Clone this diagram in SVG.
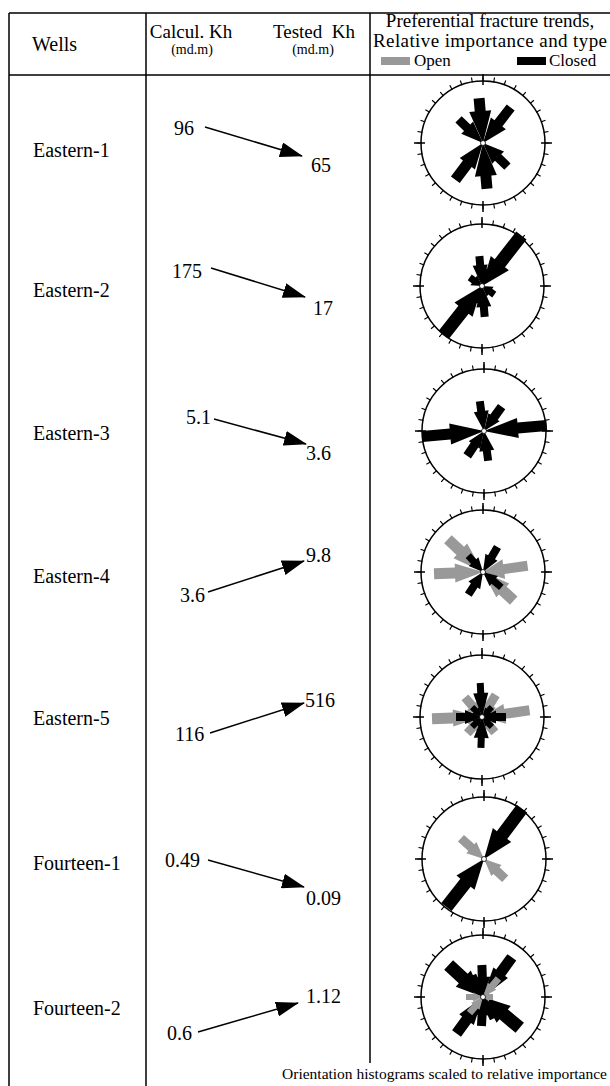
<svg xmlns="http://www.w3.org/2000/svg" width="610" height="1086" viewBox="0 0 610 1086">
<style>
text{font-family:"Liberation Serif",serif;fill:#000}
.hd{font-size:19px}
.sm{font-size:14px}
.lg{font-size:17px}
.lb{font-size:20px}
.nm{font-size:20px}
.cap{font-size:15.5px}
.rule{stroke:#000;stroke-width:1.5;fill:none}
.conn{stroke:#000;stroke-width:1.5;fill:none;marker-end:url(#ah)}
.k{fill:#000}
.g{fill:#999}
.hub{fill:#fff;stroke:#000;stroke-width:0.8}
</style>
<defs>
<marker id="ah" markerUnits="userSpaceOnUse" markerWidth="23" markerHeight="15" refX="22" refY="7.5" orient="auto"><path d="M0,0L23,7.5L0,15Z" fill="#000"/></marker>
<g id="ring">
<circle r="62" fill="none" stroke="#000" stroke-width="1.5"/>
<circle r="64" fill="none" stroke="#000" stroke-width="5" pathLength="360" stroke-dasharray="1 9" stroke-dashoffset="0.5"/>
<path d="M0,-69V-58M0,58V69M-69,0H-58M58,0H69" stroke="#000" stroke-width="1.5"/>
</g>
</defs>

<g id="table">
<path class="rule" d="M9,13H610M9,75H610M9,13V1086M146,13V1086M370,13V1063"/>
</g>

<g id="header">
<text class="lb" x="32" y="51">Wells</text>
<text class="hd" x="191" y="38" text-anchor="middle">Calcul. Kh</text>
<text class="sm" x="192" y="54" text-anchor="middle">(md.m)</text>
<text class="hd" x="314" y="38" text-anchor="middle" xml:space="preserve">Tested  Kh</text>
<text class="sm" x="313" y="54" text-anchor="middle">(md.m)</text>
<text class="hd" x="490" y="27" text-anchor="middle">Preferential fracture trends,</text>
<text class="hd" x="490" y="47" text-anchor="middle" textLength="234">Relative importance and type</text>
<rect x="381" y="57" width="29" height="8" class="g"/>
<text class="lg" x="414" y="66">Open</text>
<rect x="517" y="57" width="29" height="8" class="k"/>
<text class="lg" x="549" y="66">Closed</text>
</g>

<g id="connectors">
<path class="conn" d="M205,127L302,156"/>
<path class="conn" d="M211,268L305,297"/>
<path class="conn" d="M214,419L306,444"/>
<path class="conn" d="M208,592L304,561"/>
<path class="conn" d="M210,733L304,703"/>
<path class="conn" d="M208,860L304,887"/>
<path class="conn" d="M198,1032L298,1003"/>
</g>

<g id="eastern-1">
<text class="lb" x="33" y="157">Eastern-1</text>
<text class="nm" x="174" y="135">96</text>
<text class="nm" x="311" y="172">65</text>
<g transform="translate(483,143)">
<use href="#ring"/>
<path class="k" transform="rotate(355)" d="M0,0L11,-32H5.5V-45H-5.5V-32H-11Z"/>
<path class="k" transform="rotate(175)" d="M0,0L11,-33H5.5V-46H-5.5V-33H-11Z"/>
<path class="k" transform="rotate(38)" d="M0,0L9.5,-25H5V-45H-5V-25H-9.5Z"/>
<path class="k" transform="rotate(217)" d="M0,0L9.5,-26H5.5V-46H-5.5V-26H-9.5Z"/>
<path class="k" transform="rotate(314)" d="M0,0L8.5,-22H4.5V-34H-4.5V-22H-8.5Z"/>
<path class="k" transform="rotate(134)" d="M0,0L8.5,-21H4.5V-34H-4.5V-21H-8.5Z"/>
<circle class="hub" r="2.5"/>
</g>
</g>

<g id="eastern-2">
<text class="lb" x="33" y="297">Eastern-2</text>
<text class="nm" x="172" y="278">175</text>
<text class="nm" x="313" y="315">17</text>
<g transform="translate(482,286)">
<use href="#ring"/>
<path class="k" transform="rotate(38)" d="M0,0L11.5,-29H6.5V-64H-6.5V-29H-11.5Z"/>
<path class="k" transform="rotate(218)" d="M0,0L11.5,-30H6.5V-62H-6.5V-30H-11.5Z"/>
<path class="k" transform="rotate(355)" d="M0,0L7.5,-21H4V-30H-4V-21H-7.5Z"/>
<path class="k" transform="rotate(175)" d="M0,0L7.5,-21H4V-31H-4V-21H-7.5Z"/>
<path class="k" transform="rotate(305)" d="M0,0L6,-10H3.5V-15H-3.5V-10H-6Z"/>
<path class="k" transform="rotate(125)" d="M0,0L6,-10H3.5V-15H-3.5V-10H-6Z"/>
<path class="k" transform="rotate(15)" d="M0,0L5,-12H3V-18H-3V-12H-5Z"/>
<path class="k" transform="rotate(195)" d="M0,0L5,-12H3V-18H-3V-12H-5Z"/>
<circle class="hub" r="2.5"/>
</g>
</g>

<g id="eastern-3">
<text class="lb" x="33" y="440">Eastern-3</text>
<text class="nm" x="186" y="424">5.1</text>
<text class="nm" x="306" y="460">3.6</text>
<g transform="translate(484,431)">
<use href="#ring"/>
<path class="k" transform="rotate(85)" d="M0,0L10,-34H5.5V-63H-5.5V-34H-10Z"/>
<path class="k" transform="rotate(265)" d="M0,0L10.5,-34H5.5V-62H-5.5V-34H-10.5Z"/>
<path class="k" transform="rotate(352)" d="M0,0L7.5,-20H4V-30H-4V-20H-7.5Z"/>
<path class="k" transform="rotate(172)" d="M0,0L7.5,-20H4V-30H-4V-20H-7.5Z"/>
<path class="k" transform="rotate(36)" d="M0,0L7,-17H4.5V-30H-4.5V-17H-7Z"/>
<path class="k" transform="rotate(214)" d="M0,0L7,-17H4.5V-30H-4.5V-17H-7Z"/>
<circle class="hub" r="2.5"/>
</g>
</g>

<g id="eastern-4">
<text class="lb" x="33" y="583">Eastern-4</text>
<text class="nm" x="180" y="602">3.6</text>
<text class="nm" x="306" y="562">9.8</text>
<g transform="translate(483,572)">
<use href="#ring"/>
<path class="g" transform="rotate(268)" d="M0,0L9.5,-28H5.5V-49H-5.5V-28H-9.5Z"/>
<path class="g" transform="rotate(82)" d="M0,0L10,-21H5V-45H-5V-21H-10Z"/>
<path class="g" transform="rotate(313)" d="M0,0L10,-31H5.5V-48H-5.5V-31H-10Z"/>
<path class="g" transform="rotate(133)" d="M0,0L9.5,-27H5.5V-42H-5.5V-27H-9.5Z"/>
<path class="k" transform="rotate(30)" d="M0,0L7,-17H4V-29H-4V-17H-7Z"/>
<path class="k" transform="rotate(213)" d="M0,0L7,-16H4V-27H-4V-16H-7Z"/>
<path class="k" transform="rotate(318)" d="M0,0L6.5,-14H3.5V-22H-3.5V-14H-6.5Z"/>
<path class="k" transform="rotate(130)" d="M0,0L6.5,-14H3.5V-24H-3.5V-14H-6.5Z"/>
<circle class="hub" r="2.5"/>
</g>
</g>

<g id="eastern-5">
<text class="lb" x="33" y="725">Eastern-5</text>
<text class="nm" x="175" y="741">116</text>
<text class="nm" x="305" y="707">516</text>
<g transform="translate(482,717)">
<use href="#ring"/>
<path class="g" transform="rotate(268)" d="M0,0L8.5,-29H5.5V-50H-5.5V-29H-8.5Z"/>
<path class="g" transform="rotate(82)" d="M0,0L10,-23H5V-48H-5V-23H-10Z"/>
<path class="g" transform="rotate(319)" d="M0,0L7,-15H4.5V-26H-4.5V-15H-7Z"/>
<path class="g" transform="rotate(32)" d="M0,0L7,-15H4.5V-26H-4.5V-15H-7Z"/>
<path class="g" transform="rotate(222)" d="M0,0L7,-14H4.5V-22H-4.5V-14H-7Z"/>
<path class="g" transform="rotate(140)" d="M0,0L7,-12H4.5V-20H-4.5V-12H-7Z"/>
<path class="k" transform="rotate(357)" d="M0,0L7.5,-24H3.5V-34H-3.5V-24H-7.5Z"/>
<path class="k" transform="rotate(182)" d="M0,0L7.5,-21H3.5V-31H-3.5V-21H-7.5Z"/>
<path class="k" transform="rotate(270)" d="M0,0L7,-17H4V-26H-4V-17H-7Z"/>
<path class="k" transform="rotate(90)" d="M0,0L6.5,-14H4V-24H-4V-14H-6.5Z"/>
<path class="k" transform="rotate(315)" d="M0,0L4.5,-9H3V-14H-3V-9H-4.5Z"/>
<path class="k" transform="rotate(45)" d="M0,0L4.5,-9H3V-14H-3V-9H-4.5Z"/>
<path class="k" transform="rotate(135)" d="M0,0L4.5,-9H3V-14H-3V-9H-4.5Z"/>
<path class="k" transform="rotate(225)" d="M0,0L4.5,-9H3V-14H-3V-9H-4.5Z"/>
<circle class="hub" r="2.5"/>
</g>
</g>

<g id="fourteen-1">
<text class="lb" x="33" y="870">Fourteen-1</text>
<text class="nm" x="165" y="867">0.49</text>
<text class="nm" x="306" y="905">0.09</text>
<g transform="translate(484,859)">
<use href="#ring"/>
<path class="g" transform="rotate(312)" d="M0,0L7.5,-17H4.5V-31H-4.5V-17H-7.5Z"/>
<path class="g" transform="rotate(133)" d="M0,0L7.5,-17H4.5V-29H-4.5V-17H-7.5Z"/>
<path class="k" transform="rotate(37)" d="M0,0L11.5,-30H6.5V-63H-6.5V-30H-11.5Z"/>
<path class="k" transform="rotate(218)" d="M0,0L11.5,-30H6.5V-61H-6.5V-30H-11.5Z"/>
<circle class="hub" r="2.5"/>
</g>
</g>

<g id="fourteen-2">
<text class="lb" x="33" y="1015">Fourteen-2</text>
<text class="nm" x="167" y="1040">0.6</text>
<text class="nm" x="306" y="1003">1.12</text>
<g transform="translate(483,997)">
<use href="#ring"/>
<path class="k" transform="rotate(313)" d="M0,0L11,-27H6.5V-47H-6.5V-27H-11Z"/>
<path class="k" transform="rotate(130)" d="M0,0L11,-27H6.5V-48H-6.5V-27H-11Z"/>
<path class="k" transform="rotate(36)" d="M0,0L9,-30H5.5V-49H-5.5V-30H-9Z"/>
<path class="k" transform="rotate(216)" d="M0,0L9,-28H5.5V-45H-5.5V-28H-9Z"/>
<path class="k" transform="rotate(358)" d="M0,0L8,-20H4.5V-32H-4.5V-20H-8Z"/>
<path class="k" transform="rotate(183)" d="M0,0L8,-18H4.5V-29H-4.5V-18H-8Z"/>
<path class="k" transform="rotate(335)" d="M0,0L6,-16H3.5V-24H-3.5V-16H-6Z"/>
<path class="k" transform="rotate(155)" d="M0,0L6,-16H3.5V-24H-3.5V-16H-6Z"/>
<path class="g" transform="rotate(40)" d="M0,0L5.5,-14H3.5V-24H-3.5V-14H-5.5Z"/>
<path class="g" transform="rotate(220)" d="M0,0L5.5,-12H3.5V-21H-3.5V-12H-5.5Z"/>
<path class="g" transform="rotate(270)" d="M0,0L4.5,-10H3V-17H-3V-10H-4.5Z"/>
<path class="g" transform="rotate(90)" d="M0,0L4.5,-6H3V-10H-3V-6H-4.5Z"/>
<circle class="hub" r="2.5"/>
</g>
</g>

<text class="cap" x="607" y="1079" text-anchor="end">Orientation histograms scaled to relative importance</text>
</svg>
